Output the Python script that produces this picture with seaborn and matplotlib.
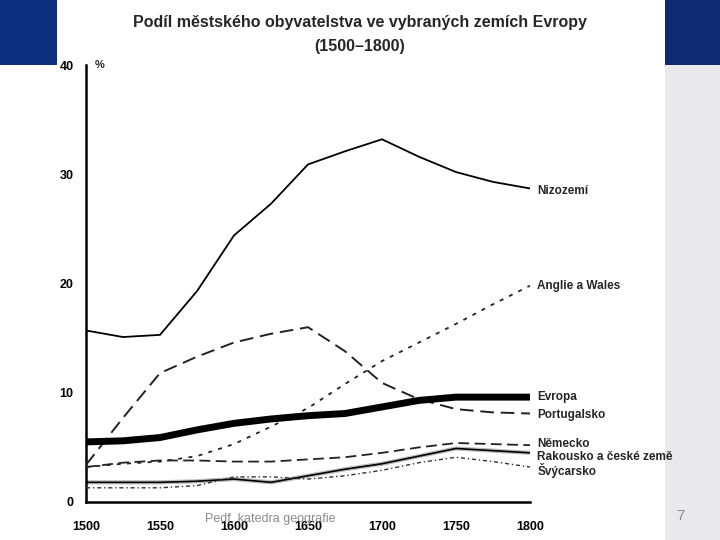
import matplotlib
matplotlib.use("Agg")
import matplotlib.pyplot as plt
import seaborn as sns
import pandas as pd
from matplotlib.patches import Rectangle

years = [1500, 1525, 1550, 1575, 1600, 1625, 1650, 1675, 1700, 1725, 1750, 1775, 1800]
nizozemi = [15.7, 15.1, 15.3, 19.3, 24.4, 27.3, 30.9, 32.1, 33.2, 31.6, 30.2, 29.3, 28.7]
anglie = [3.2, 3.5, 3.7, 4.2, 5.3, 6.9, 8.6, 10.8, 12.9, 14.6, 16.3, 18.1, 19.8]
portugalsko = [3.4, 7.7, 11.8, 13.3, 14.6, 15.4, 16.0, 13.8, 10.9, 9.4, 8.5, 8.2, 8.1]
evropa = [5.5, 5.6, 5.9, 6.6, 7.2, 7.6, 7.9, 8.1, 8.7, 9.3, 9.6, 9.6, 9.6]
nemecko = [3.2, 3.6, 3.8, 3.8, 3.7, 3.7, 3.9, 4.1, 4.5, 5.0, 5.4, 5.3, 5.2]
rakousko = [1.8, 1.8, 1.8, 1.9, 2.1, 1.8, 2.4, 3.0, 3.5, 4.2, 4.9, 4.7, 4.5]
svycarsko = [1.3, 1.3, 1.3, 1.5, 2.3, 2.3, 2.1, 2.4, 2.9, 3.6, 4.1, 3.7, 3.2]

series_names = ["Nizozemí", "Anglie a Wales", "Portugalsko", "Evropa",
                "Německo", "Rakousko a české země", "Švýcarsko"]
series_values = [nizozemi, anglie, portugalsko, evropa, nemecko, rakousko, svycarsko]

x_ticks = [1500, 1550, 1600, 1650, 1700, 1750, 1800]
y_ticks = [0, 10, 20, 30, 40]

title_line1 = "Podíl městského obyvatelstva ve vybraných zemích Evropy"
title_line2 = "(1500–1800)"

sns.set_style("white")
plt.rcParams['font.family'] = ['Liberation Sans', 'DejaVu Sans']

fig = plt.figure(figsize=(7.2, 5.4), dpi=100)
fig.patch.set_facecolor("white")

# slide decorations
fig.add_artist(Rectangle((0, 1 - 65 / 540), 57 / 720, 65 / 540, transform=fig.transFigure,
                         facecolor="#0d2d7e", edgecolor="none", zorder=0))
fig.add_artist(Rectangle((665 / 720, 1 - 65 / 540), 55 / 720, 65 / 540, transform=fig.transFigure,
                         facecolor="#0d2a6e", edgecolor="none", zorder=0))
fig.add_artist(Rectangle((665 / 720, 0), 55 / 720, 1 - 65 / 540, transform=fig.transFigure,
                         facecolor="#e9e9ec", edgecolor="none", zorder=0))

ax = fig.add_axes([86 / 720, 1 - 502 / 540, (530 - 86) / 720, (502 - 65) / 540])
ax.set_facecolor("none")

styles = {
    "Nizozemí": dict(color="black", lw=1.3, ls="-"),
    "Anglie a Wales": dict(color="#222222", lw=1.3, ls=(0, (2.2, 3.5))),
    "Portugalsko": dict(color="#222222", lw=1.4, ls=(0, (7, 3.5))),
    "Evropa": dict(color="black", lw=5.0, ls="-"),
    "Německo": dict(color="#222222", lw=1.3, ls=(0, (6, 3))),
    "Rakousko a české země": dict(color="black", lw=1.2, ls="-"),
    "Švýcarsko": dict(color="#333333", lw=1.0, ls=(0, (3, 2, 1, 2))),
}

for name, vals in zip(series_names, series_values):
    df = pd.DataFrame({"rok": years, "hodnota": vals})
    st = styles[name]
    if name == "Rakousko a české země":
        sns.lineplot(data=df, x="rok", y="hodnota", ax=ax, color="#bbbbbb", lw=3.0,
                     zorder=2, legend=False)
    sns.lineplot(data=df, x="rok", y="hodnota", ax=ax, color=st["color"], lw=st["lw"],
                 linestyle=st["ls"], zorder=3, legend=False)

ax.set_xlim(1500, 1800)
ax.set_ylim(0, 40)
ax.set_xticks(x_ticks)
ax.set_yticks(y_ticks)
ax.set_xlabel("")
ax.set_ylabel("")
for s in ["top", "right"]:
    ax.spines[s].set_visible(False)
for s in ["left", "bottom"]:
    ax.spines[s].set_linewidth(1.8)
    ax.spines[s].set_color("black")
ax.tick_params(axis="both", direction="out", length=6, width=1.5, colors="black",
               labelsize=9)
for lbl in ax.get_xticklabels() + ax.get_yticklabels():
    lbl.set_fontweight("bold")
ax.tick_params(axis="x", pad=8)
ax.tick_params(axis="y", pad=3)

ax.text(0.02, 1.0, "%", transform=ax.transAxes, fontsize=8, fontweight="bold",
        va="center", ha="left")

# end labels
label_y = {
    "Nizozemí": 28.5,
    "Anglie a Wales": 19.8,
    "Evropa": 9.6,
    "Portugalsko": 8.0,
    "Německo": 5.3,
    "Rakousko a české země": 4.1,
    "Švýcarsko": 2.9,
}
for name in series_names:
    ax.text(1805, label_y[name], name, fontsize=8.5, fontweight="bold",
            va="center", ha="left", clip_on=False)

fig.text(0.5, 1 - 22 / 540, title_line1, ha="center", va="center", fontsize=11.5,
         fontweight="bold")
fig.text(0.5, 1 - 47 / 540, title_line2, ha="center", va="center", fontsize=11.5,
         fontweight="bold")

fig.text(270 / 720, 1 - 519 / 540, "Pedf, katedra geografie", ha="center", va="center",
         fontsize=9, color="#8a8a8a")
fig.text(680 / 720, 1 - 516 / 540, "7", ha="center", va="center", fontsize=11,
         color="#8a8a8a")

fig.savefig("out.png", dpi=100)
